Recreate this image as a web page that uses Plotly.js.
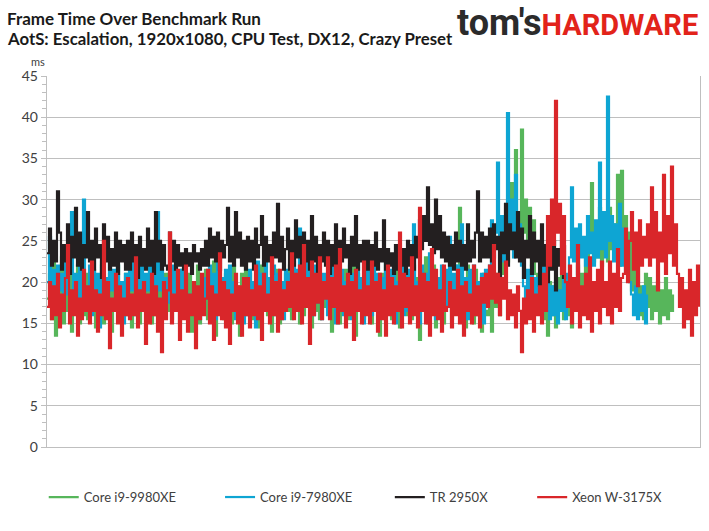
<!DOCTYPE html>
<html>
<head>
<meta charset="utf-8">
<script src="https://cdn.plot.ly/plotly-3.0.1.min.js"></script>
<style>
  html, body { margin: 0; padding: 0; background: #fff; }
  #graphDiv { width: 709px; height: 531px; }
</style>
</head>
<body>
<div id="graphDiv"></div>
<script>
// frame times in ms (one value every couple of frames)
const seriesNames = ['Core i9-9980XE', 'Core i9-7980XE', 'TR 2950X', 'Xeon W-3175X'];
const seriesColors = ['#57b65b', '#0ea5d3', '#231f20', '#d9262a'];

const core9980 = [
  18, 21, 15.5, 22.5, 13.5, 20, 17, 23, 15, 19.5, 16.5, 21.5, 14, 19, 17.5, 22, 15, 20.5, 16, 21,
  15.5, 20, 17, 21.5, 14.5, 19.5, 16, 22, 15, 20.5, 17, 21, 14, 19.5, 16.5, 22, 15.5, 20, 17, 21,
  16, 20.5, 14.5, 22.5, 17, 19.5, 15, 21, 16.5, 20, 17.5, 21.5, 15, 20, 16, 23, 14.5, 19.5, 17, 21,
  16.5, 22, 15.5, 20.5, 17, 19, 15, 21.5, 16, 20, 17, 21, 14, 19.5, 16.5, 22, 15, 20.5, 17.5, 21.5,
  15.5, 20, 16.5, 22.5, 13.5, 21, 17, 19.5, 15.5, 21, 16.5, 20.5, 15, 22, 17, 19.5, 13.5, 21, 16, 22.5,
  17, 21, 15.5, 20, 16.5, 20, 14.5, 22, 17.5, 20.5, 16, 20.5, 14, 19, 17, 21.5, 15, 20, 16.5, 21,
  16.5, 22, 15.5, 20.5, 17, 21, 15, 21.5, 16, 20, 17, 22.5, 14.5, 19.5, 16.5, 21, 15.5, 20.5, 17, 19.5,
  17, 21, 14, 19.5, 16.5, 22, 15, 20.5, 17.5, 21.5, 15.5, 20, 16.5, 22.5, 13.5, 21, 17, 19.5, 15.5, 21,
  16.5, 20.5, 15, 22, 17, 19.5, 13.5, 21, 16, 22.5, 17, 21, 15.5, 20, 16.5, 23, 14.5, 20, 17, 21.5,
  16, 21, 15.5, 22, 17, 20.5, 13, 21, 16.5, 23, 15, 20, 17.5, 22, 14.5, 20.5, 16, 21.5, 15, 20,
  17, 21, 15.5, 20.5, 16.5, 22, 29, 16.5, 20, 14.5, 22, 17.5, 20.5, 15, 21.5, 16, 20, 14, 21, 16.5,
  16, 20.5, 14, 19, 17, 21, 16, 23, 21, 27, 22.5, 28, 32, 24, 36, 23.5, 27, 38.5, 26, 30,
  24.5, 29, 22, 27.5, 21, 19, 16.5, 21, 15.5, 19, 13.5, 20, 16, 19.5, 14.5, 20.5, 17, 21.5, 15.5, 20,
  16, 19.5, 14.5, 20.5, 17, 22, 16.5, 21, 18, 23.5, 20, 25, 32, 22.5, 27, 23, 29, 22, 26.5, 24,
  22.5, 29, 24, 27, 23, 33, 22, 33.5, 24, 28, 21.5, 26, 19, 23, 17, 22, 16, 19.5, 15.5, 21,
  17, 20.5, 15.5, 19.5, 16.5, 20, 15, 19, 16, 20.5, 15.5, 19, 16.5, 18.5
];

const core7980 = [
  20, 25.5, 18, 21.5, 17, 22, 19, 21, 16.5, 23, 18.5, 21.5, 28.5, 19, 21, 17.5, 22, 18, 30, 19,
  18.5, 22, 16, 23.5, 19, 21, 14.5, 22.5, 18, 20.5, 17, 24, 19, 21.5, 16.5, 22, 18.5, 20, 15, 21,
  17.5, 22, 19, 24.5, 16, 21, 18.5, 22.5, 17, 21, 19, 23, 16.5, 21.5, 18, 28.5, 19, 21.5, 17.5, 20.5,
  17.5, 21, 18.5, 22, 16.5, 20.5, 18, 21.5, 17, 19, 16, 18.5, 17, 19.5, 16.5, 18, 15.5, 19, 17, 20.5,
  18, 22, 17, 21, 15.5, 23, 18.5, 20.5, 17, 21.5, 16.5, 22, 18, 20, 15.5, 19, 16, 18, 15, 17,
  16, 21.5, 17.5, 20, 14.5, 22.5, 18, 21, 16.5, 23.5, 17, 20.5, 18.5, 22, 16, 21, 17.5, 20, 15.5, 21.5,
  17.5, 21, 18, 22.5, 16.5, 21.5, 26.5, 18, 20, 17, 24, 18.5, 21, 16, 22, 17.5, 20.5, 15.5, 21, 18,
  16, 21, 17.5, 22.5, 15, 20.5, 17, 21.5, 16, 20, 18, 22, 15.5, 21, 17, 23, 16.5, 20.5, 15, 21.5,
  17.5, 22, 16, 24.5, 18, 21, 15.5, 20.5, 17, 23, 16.5, 21.5, 18, 22, 15, 20, 17, 24, 16, 21,
  16.5, 21.5, 18, 27, 17, 20, 15, 22, 17.5, 21, 16, 23.5, 18, 21, 15.5, 20.5, 17, 22, 16.5, 21.5,
  17, 25.5, 16.5, 21, 18, 22, 16, 27, 18, 20.5, 15.5, 21.5, 18, 22, 16.5, 20, 17.5, 21, 15, 21.5,
  20, 22, 27.5, 23, 26, 34.5, 24, 28, 22.5, 27, 40.5, 25, 30, 23, 33, 24, 27, 22, 19.5, 17,
  21.5, 16.5, 22, 18, 20.5, 17, 21, 16, 22.5, 17.5, 20, 15.5, 19.5, 16, 20, 15, 19, 16.5, 20.5, 15.5,
  21, 23, 31.5, 22.5, 26.5, 21, 27, 23, 25.5, 22, 28, 23.5, 26, 22, 27.5, 23, 34.5, 24, 28.5, 23,
  42.5, 25, 28, 22.5, 27, 24, 29.5, 22, 26.5, 21, 25, 20, 18.5, 16, 19.5, 15.5, 18.5, 16.5, 19.5, 15,
  18.5
];

const tr2950 = [
  23.5, 26.5, 22, 25, 22.5, 31, 26, 21.5, 24.5, 22.5, 27, 21, 25.5, 23, 29, 22, 26, 21.5, 24.5, 23,
  28.5, 22.5, 25, 21.5, 26.5, 23, 24.5, 20.5, 27, 22.5, 25.5, 21.5, 24, 22, 26, 21, 25, 22.5, 24.5, 21.5,
  25, 21.5, 26, 22.5, 24.5, 20.5, 25.5, 22, 24, 21.5, 26.5, 22, 25, 21, 28.5, 22.5, 25, 21.5, 24.5, 22,
  21.5, 26, 22.5, 25, 21.5, 24.5, 22, 23.5, 21.5, 24, 22, 23.5, 21, 24.5, 22.5, 23.5, 21.5, 24, 22, 25,
  22, 26.5, 23, 25.5, 22.5, 26, 21.5, 25, 23, 24.5, 29, 22.5, 25.5, 22, 28.5, 23, 26, 22, 25, 21.5,
  25.5, 22.5, 25, 21.5, 26.5, 23, 24.5, 28, 22, 25.5, 22.5, 24.5, 21, 26, 23, 29.5, 22.5, 25.5, 21.5, 24,
  26.5, 21.5, 25, 22, 27.5, 23, 25.5, 20.5, 26, 22.5, 25, 21.5, 28, 22.5, 25.5, 21, 24.5, 22.5, 26, 22,
  25, 21, 24.5, 22, 27, 21.5, 25, 22.5, 26.5, 23, 24.5, 21, 25.5, 22, 28, 21.5, 24.5, 22.5, 25, 21.5,
  25, 21.5, 24.5, 22, 26, 21.5, 24, 22.5, 27.5, 21.5, 24, 22, 23.5, 21, 24.5, 21.5, 23, 22, 24, 21,
  25, 22, 24.5, 21.5, 25.5, 23, 27.5, 24, 28, 25, 31.5, 24.5, 27, 23.5, 30, 24, 28, 23, 26, 22.5,
  25.5, 22, 24.5, 21.5, 26, 22.5, 25, 22, 24.5, 21.5, 27, 22.5, 25, 23, 26, 31, 22.5, 26, 23, 25.5,
  23, 26.5, 22.5, 27, 24, 25.5, 18.5, 26, 23.5, 29.5, 22, 27, 24, 26, 23, 28.5, 22.5, 26.5, 20.5, 25,
  23, 28, 21, 26, 22.5, 25, 19.5, 27, 22, 24.5, 20, 26.5, 21.5, 25, 19, 24, 22, 27, 20.5, 24.5
];

const xeon3175 = [
  17, 20, 15.5, 19.5, 16, 21, 14.5, 18.5, 16.5, 20.5, 24.5, 15, 19, 16, 20, 13.5, 18, 15.5, 21.5, 16.5,
  19.5, 15, 22.5, 16.5, 19, 14, 18.5, 16, 25, 15.5, 20, 12, 18, 16.5, 21, 15, 19.5, 13.5, 18, 16,
  20.5, 15.5, 18.5, 16, 23, 14.5, 19, 16.5, 20, 12.5, 18.5, 15, 21, 16, 19.5, 14, 18, 11.5, 20, 15.5,
  19, 26, 15, 18.5, 16.5, 21.5, 13, 19, 15.5, 22, 14, 18.5, 16, 20, 12, 19.5, 15.5, 21, 16, 18,
  21.5, 15, 19.5, 13, 18.5, 16, 23.5, 15.5, 20, 14.5, 19, 12.5, 18.5, 16.5, 21, 15, 19.5, 13.5, 20.5, 16,
  20.5, 14.5, 19, 16, 22, 15.5, 19.5, 13, 21, 16.5, 18.5, 15, 23, 16, 20, 14, 21.5, 15.5, 19, 16.5,
  20, 17, 23.5, 15.5, 21, 16.5, 22, 15, 24.5, 17, 20.5, 12.5, 22.5, 16, 21, 17.5, 23, 15.5, 20, 18,
  23, 15.5, 20.5, 17, 22, 15, 24, 16.5, 19.5, 14.5, 21, 16, 20, 13, 21.5, 16.5, 19, 15, 22.5, 16,
  19.5, 15, 22.5, 16.5, 20, 14, 21, 15.5, 19, 13.5, 22, 16, 20.5, 15, 19.5, 16.5, 26, 14.5, 21, 17,
  20.5, 15, 23, 16, 19.5, 14.5, 29, 16.5, 21, 15, 20, 13.5, 24, 16, 21.5, 15.5, 19, 14, 22, 16.5,
  17, 20, 14.5, 19, 16, 21.5, 15, 19.5, 13.5, 20, 16.5, 18.5, 15, 22, 16, 19.5, 14.5, 20.5, 17.5, 21,
  17, 22, 18, 24.5, 17.5, 21, 16, 20.5, 18, 22.5, 15.5, 19, 16, 18.5, 14.5, 19.5, 16.5, 11.5, 18, 15,
  19, 15.5, 20.5, 14, 18.5, 16, 19.5, 15, 21, 16.5, 28, 22, 30, 24.5, 42, 26, 29.5, 21, 28, 20,
  17, 22, 15, 20.5, 16.5, 24.5, 14.5, 19.5, 16, 21, 15.5, 23, 14, 20, 16.5, 21.5, 15, 22.5, 17, 20,
  16, 22.5, 15, 21, 17, 24, 16.5, 20.5, 21, 26.5, 20, 25, 28.5, 21.5, 26, 19.5, 27.5, 22, 25.5, 23,
  27, 22, 31.5, 23, 28.5, 19, 26, 22.5, 33, 21, 28, 23.5, 34, 22, 27, 21, 17, 20.5, 14.5, 19,
  15.5, 21.5, 13.5, 20, 16, 22, 17
];

const allSeries = [core9980, core7980, tr2950, xeon3175];
const yTicks = [0, 5, 10, 15, 20, 25, 30, 35, 40, 45];

const fontFace = 'Lato, "Open Sans", sans-serif';
const legendX = [-0.005, 0.265, 0.525, 0.743];

// step shape: each frame becomes a vertical stroke, like the dense Excel trace
const data = allSeries.map((vals, k) => ({
  type: 'scatter',
  mode: 'lines',
  name: seriesNames[k],
  x: vals.map((v, i) => i),
  y: vals,
  line: { color: seriesColors[k], width: 2.2, shape: 'hv', simplify: false },
  legend: k === 0 ? 'legend' : 'legend' + (k + 1),
  hoverinfo: 'skip'
}));

function legendBox(xpos) {
  return {
    x: xpos, y: -0.135, xanchor: 'left', yanchor: 'middle',
    orientation: 'h', bgcolor: 'rgba(0,0,0,0)',
    font: { family: fontFace, size: 13, color: '#404040' }
  };
}

const layout = {
  width: 709,
  height: 531,
  margin: { l: 47, r: 9, t: 76, b: 84 },
  paper_bgcolor: '#ffffff',
  plot_bgcolor: '#ffffff',
  showlegend: true,
  legend: legendBox(legendX[0]),
  legend2: legendBox(legendX[1]),
  legend3: legendBox(legendX[2]),
  legend4: legendBox(legendX[3]),
  xaxis: {
    range: [0, 326.5],
    showticklabels: false,
    showgrid: false,
    zeroline: false,
    ticks: '',
    showline: true,
    linecolor: '#bfbfbf',
    linewidth: 1.3,
    mirror: false
  },
  yaxis: {
    range: [0, 45],
    tickvals: yTicks,
    ticktext: yTicks.map(String),
    ticks: 'outside',
    ticklen: 5,
    tickcolor: '#bfbfbf',
    minor: { dtick: 1, ticks: 'outside', ticklen: 4, tickcolor: '#bfbfbf', showgrid: false },
    showgrid: true,
    gridcolor: '#bfbfbf',
    gridwidth: 1.2,
    zeroline: false,
    showline: true,
    linecolor: '#bfbfbf',
    linewidth: 1.3,
    mirror: true,
    tickfont: { family: fontFace, size: 14, color: '#404040' }
  },
  annotations: [
    {
      xref: 'paper', yref: 'paper', x: -0.064, y: 1.155, xanchor: 'left', yanchor: 'middle',
      text: '<b>Frame Time Over Benchmark Run</b>', showarrow: false,
      font: { family: fontFace, size: 17, color: '#1a1a1a' }
    },
    {
      xref: 'paper', yref: 'paper', x: -0.064, y: 1.102, xanchor: 'left', yanchor: 'middle',
      text: '<b>AotS: Escalation, 1920x1080, CPU Test, DX12, Crazy Preset</b>', showarrow: false,
      font: { family: fontFace, size: 16.8, color: '#1a1a1a' }
    },
    {
      xref: 'paper', yref: 'paper', x: 1.0, y: 1.143, xanchor: 'right', yanchor: 'middle',
      text: "<b><span style='color:#2b2b2b;font-size:36px'>tom's</span>HARDWARE</b>", showarrow: false,
      font: { family: 'Roboto, sans-serif', size: 29, color: '#e2231a' }
    },
    {
      xref: 'paper', yref: 'paper', x: -0.0145, y: 1.04, xanchor: 'center', yanchor: 'middle',
      text: 'ms', showarrow: false,
      font: { family: fontFace, size: 11, color: '#404040' }
    }
  ]
};

Plotly.newPlot('graphDiv', data, layout, { displayModeBar: false, staticPlot: true });
</script>
</body>
</html>
